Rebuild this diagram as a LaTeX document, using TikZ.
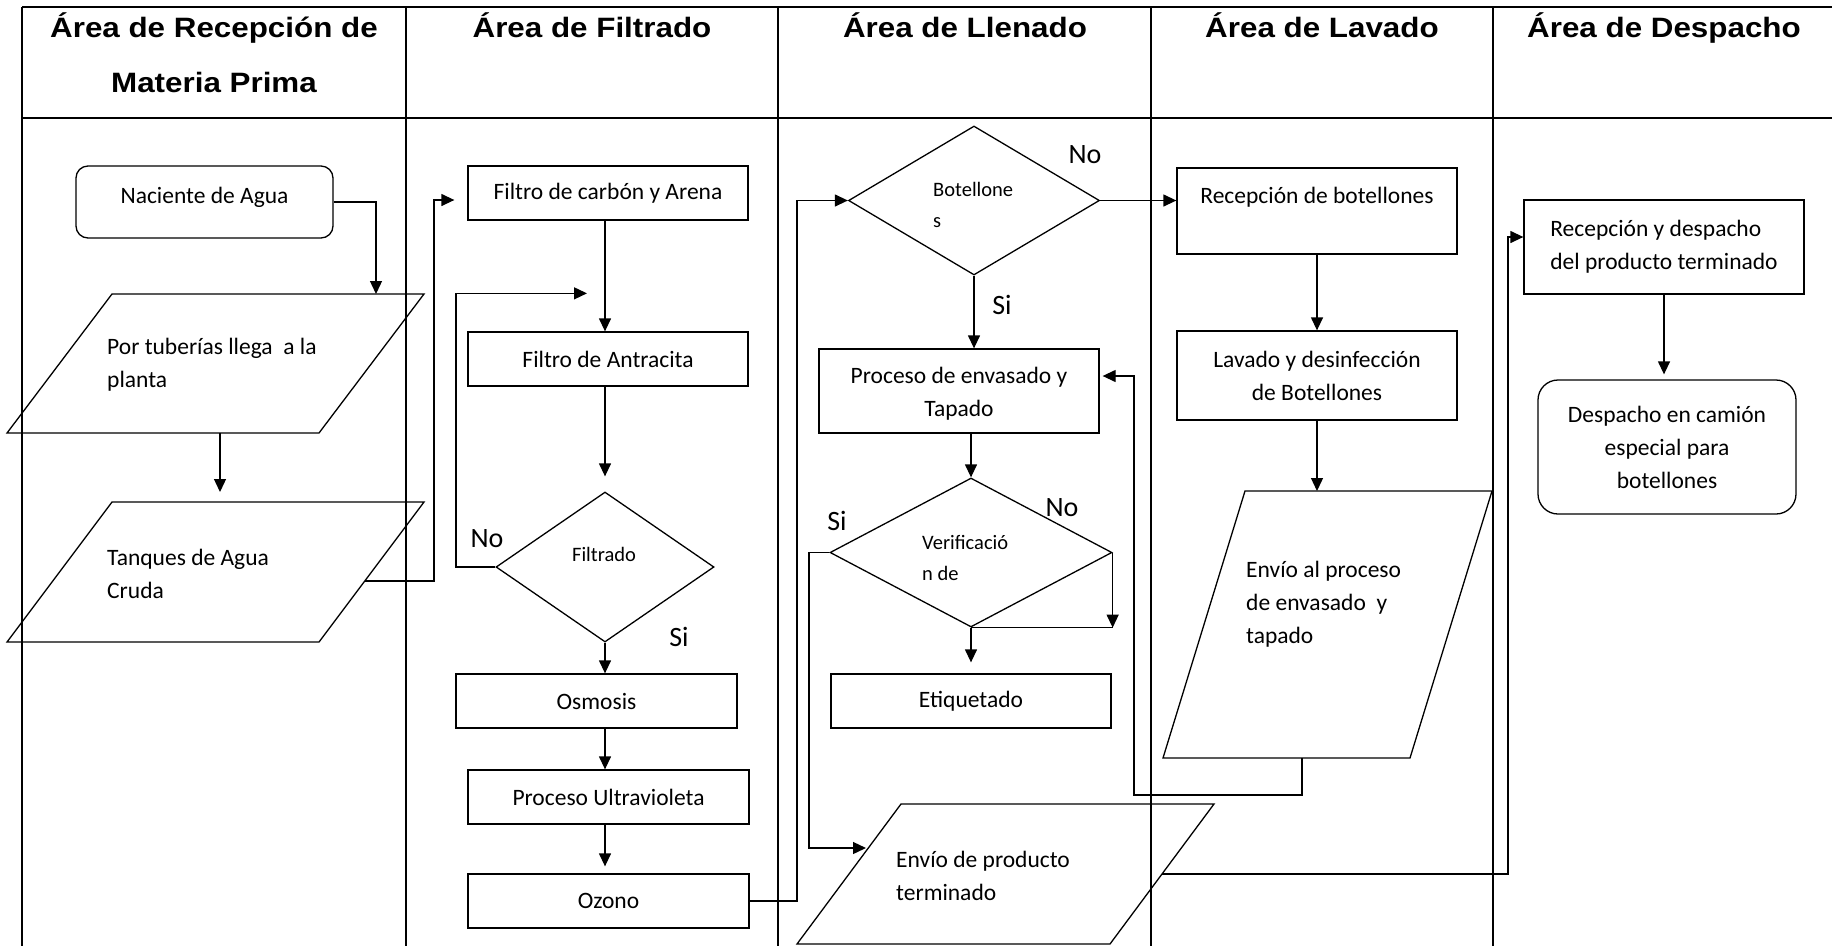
\documentclass[tikz,border=0pt]{standalone}
\usepackage{fontspec}
\setmainfont{Carlito}
\newfontfamily\hdrfont{Liberation Sans}[FakeStretch=1.12]
\usetikzlibrary{arrows.meta,shapes.geometric,calc}

\newcommand\bodyfs{\fontsize{23.5}{33}\selectfont}
\newcommand\diafs{\fontsize{20.5}{31}\selectfont}
\newcommand\lblfs{\fontsize{28}{32}\selectfont}
\newcommand\hdrfs{\hdrfont\bfseries\fontsize{28}{55}\selectfont}

\tikzset{
  lane/.style={line width=1.8pt},
  shp/.style={line width=1.3pt},
  box/.style={draw, shp, rectangle, inner sep=0pt, align=center, font=\bodyfs},
  dia/.style={draw, shp, diamond, inner sep=0pt},
  pbox/.style={rectangle, inner sep=0pt, outer sep=0pt},
  ptxt/.style={anchor=west, inner sep=0pt, align=left, font=\bodyfs},
  btxt/.style={inner sep=0pt, align=center, font=\bodyfs},
  dtxt/.style={inner sep=0pt, align=left, font=\diafs},
  lbl/.style={inner sep=0pt, font=\lblfs},
  hdr/.style={inner sep=0pt, align=center, font=\hdrfs},
  conn/.style={shp, -{Triangle[length=13pt,width=12pt]}},
  wire/.style={shp}
}

\begin{document}
\begin{tikzpicture}[x=1pt, y=-1pt]
\useasboundingbox (0,0) rectangle (1832,946);

% swimlane grid
\draw[lane] (22,7) -- (1832,7);
\draw[lane] (22,118) -- (1832,118);
\foreach \lx in {22,406,778,1151,1493} \draw[lane] (\lx,7) -- (\lx,946);

% lane headers (multi-line nodes sit on the baseline of their last line)
\node[hdr, anchor=base] (h1) at (214,92) {Área de Recepción de\\Materia Prima};
\node[hdr, anchor=base] (h2) at (592,37) {Área de Filtrado};
\node[hdr, anchor=base] (h3) at (965,37) {Área de Llenado};
\node[hdr, anchor=base] (h4) at (1322,37) {Área de Lavado};
\node[hdr, anchor=base] (h5) at (1664,37) {Área de Despacho};

% --- raw material reception
\node[box, rounded corners=12pt, minimum width=257pt, minimum height=72pt] (nac) at (204.5,202) {};
\node[btxt] (nact) at (204.5,197) {Naciente de Agua};

\node[pbox, minimum width=417pt, minimum height=139pt] (p1) at (215.5,363.5) {};
\draw[shp] ([xshift=105pt]p1.north west) -- (p1.north east) -- ([xshift=-105pt]p1.south east) -- (p1.south west) -- cycle;
\node[ptxt] (p1t) at (107,365) {Por tuberías llega~ a la\\planta};

\node[pbox, minimum width=417pt, minimum height=140pt] (p2) at (215.5,572) {};
\draw[shp] ([xshift=105pt]p2.north west) -- (p2.north east) -- ([xshift=-105pt]p2.south east) -- (p2.south west) -- cycle;
\node[ptxt] (p2t) at (107,574) {Tanques de Agua\\Cruda};

% --- filtering
\node[box, minimum width=280pt, minimum height=54pt] (fca) at (608,193) {Filtro de carbón y Arena};
\node[box, minimum width=280pt, minimum height=54pt] (fan) at (608,359) {Filtro de Antracita};
\node[dia, minimum width=218pt, minimum height=150pt] (dfil) at (605,567) {};
\node[dtxt] (dfilt) at (604,554) {Filtrado};
\node[box, minimum width=281pt, minimum height=54pt] (osm) at (596.5,701) {Osmosis};
\node[box, minimum width=281pt, minimum height=54pt] (puv) at (608.5,797) {Proceso Ultravioleta};
\node[box, minimum width=281pt, minimum height=54pt] (ozo) at (608.5,901) {Ozono};

% --- filling
\node[dia, minimum width=251pt, minimum height=149pt] (dbot) at (974,200.5) {};
\node[dtxt, anchor=west] (dbott) at (933,205) {Botellone\\s};
\node[box, minimum width=280pt, minimum height=84pt] (pet) at (959,391) {};
\node[btxt] (pett) at (959,394) {Proceso de envasado y\\Tapado};
\node[dia, minimum width=282pt, minimum height=149pt] (dver) at (971,552.5) {};
\node[dtxt, anchor=west] (dvert) at (922,558) {Verificació\\n de};
\node[box, minimum width=280pt, minimum height=54pt] (eti) at (971,701) {Etiquetado};

\node[pbox, minimum width=417pt, minimum height=140pt] (p3) at (1005.5,874) {};
\draw[shp] ([xshift=104pt]p3.north west) -- (p3.north east) -- ([xshift=-104pt]p3.south east) -- (p3.south west) -- cycle;
\node[ptxt] (p3t) at (896,876) {Envío de producto\\terminado};

% --- washing
\node[box, minimum width=280pt, minimum height=86pt] (rbo) at (1317,211) {};
\node[btxt] (rbot) at (1317,197) {Recepción de botellones};
\node[box, minimum width=280pt, minimum height=89pt] (lav) at (1317,375.5) {Lavado y desinfección\\de Botellones};

\node[pbox, minimum width=329pt, minimum height=267pt] (p4) at (1327.5,624.5) {};
\draw[shp] ([xshift=82pt]p4.north west) -- (p4.north east) -- ([xshift=-82pt]p4.south east) -- (p4.south west) -- cycle;
\node[ptxt] (p4t) at (1246,604) {Envío al proceso\\de envasado~ y\\tapado};

% --- dispatch
\node[box, align=left, minimum width=280pt, minimum height=94pt] (rde) at (1664,247) {Recepción y despacho\\del producto terminado};
\node[box, rounded corners=20pt, minimum width=258pt, minimum height=134pt] (dca) at (1667,447) {Despacho en camión\\especial para\\botellones};

% decision labels
\node[lbl] (l1) at (487,539) {No};
\node[lbl] (l2) at (679,637) {Si};
\node[lbl] (l3) at (1085,155) {No};
\node[lbl] (l4) at (1002,305) {Si};
\node[lbl] (l5) at (837,521) {Si};
\node[lbl] (l6) at (1062,508) {No};

% connectors: reception
\draw[conn] (nac.east) -| ([xshift=160.5pt]p1.north);
\draw[conn] ([xshift=4.5pt]p1.south) -- ([xshift=4.5pt,yshift=10pt]p2.north);
\draw[conn] ([xshift=149.5pt,yshift=-9pt]p2.center) -| (434,390) |- ([xshift=-13pt,yshift=-7pt]fca.west);

% connectors: filtering
\draw[conn] (fca.south -| dfil.south) -- (fan.north -| dfil.south);
\draw[conn] (fan.south -| dfil.south) -- ($(dfil.north)+(0,-15)$);
\draw[conn] (dfil.west) -| (456,400) |- ([xshift=-21pt,yshift=38pt]fan.north);
\draw[conn] (dfil.south) -- (dfil.south |- osm.north);
\draw[conn] (osm.south -| dfil.south) -- (puv.north -| dfil.south);
\draw[conn] (puv.south -| dfil.south) -- ($(ozo.north -| dfil.south)+(0,-7)$);
\draw[conn] (ozo.east) -| (797,500) |- (dbot.west);

% connectors: filling
\draw[conn] (dbot.east) -- (dbot.east -| rbo.west);
\draw[conn] (dbot.south) -- (dbot.south |- pet.north);
\draw[conn] (dver.north |- pet.south) -- (dver.north);
\draw[conn] (dver.west) -| (809,700) |- ([xshift=-139.5pt,yshift=26pt]p3.center);
\draw[conn] (dver.east) -- (dver.east |- dver.south);
\draw[wire] (dver.south) -- (dver.east |- dver.south);
\draw[conn] (dver.south) -- ($(dver.south |- eti.north)+(0,-11)$);

% connectors: washing
\draw[conn] (rbo.south) -- (lav.north);
\draw[conn] (lav.south) -- (lav.south |- p4.north);
\draw[conn] ([xshift=-25.5pt]p4.south) |- (1134,795) |- ([xshift=3pt,yshift=15pt]pet.east);

% connectors: dispatch
\draw[conn] ([xshift=156.5pt]p3.center) -| (1508,500) |- ([yshift=10pt]rde.west);
\draw[conn] (rde.south) -- ($(rde.south |- dca.north)+(0,-5)$);
\end{tikzpicture}
\end{document}
